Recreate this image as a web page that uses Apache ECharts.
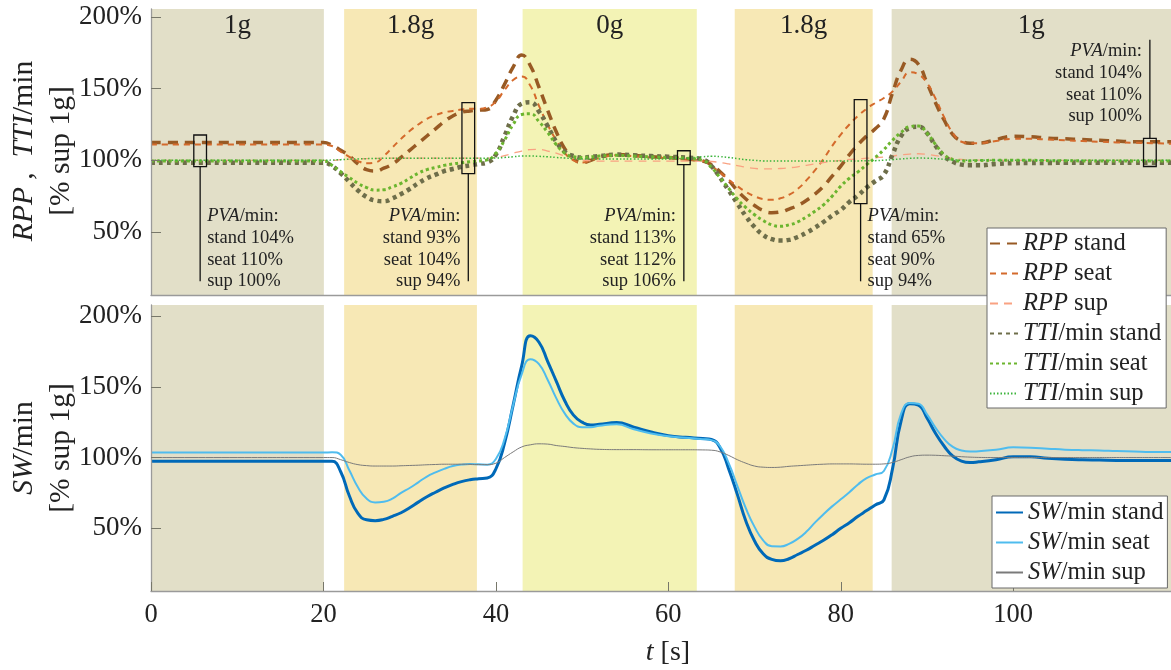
<!DOCTYPE html>
<html><head><meta charset="utf-8">
<script src="https://cdn.jsdelivr.net/npm/echarts@6/dist/echarts.min.js"></script>
<style>html,body{margin:0;padding:0;background:#fff}#c{width:1171px;height:670px}</style>
</head><body><div id="c"></div>
<script>
// ---------- data ----------
const t = [0,10,20, 21,22,23,24,25,26,27,28,29,30, 31,32,33,34,35,36,37,38,39,40, 41,42,43,44,45,46,47,48,49,50, 51,52,54,56,58,60,62,64, 65,66,67,68,69,70,71,72,73,74, 75,76,77,78,79,80,81,82,83,84, 85,86,87,88,89,90,91,92,93,94, 95,96,98,100,102,104,106,108,110,112,114,116,119];

const rppStand = [112.5,112.5,112.5, 110.5,107,103,97.5,93.5,92.5,94.5,97.5,102,107, 112,117,122,127,131,133.5,134.5,135,135.5,142, 153,165,173.5,166,151,135,120,108,101,98.5, 100,102.5,104,103.5,102.5,102,101,99.5, 97,92,86,79,73,68.5,65,63.5,64,66, 68.5,72,76.5,82,89,96,104,111,117,122, 129,147,163,170.5,167,154,140,128,118,113.5, 112,112,114.5,116.8,116.5,115.5,115,114.5,114,113.5,113,113,113];
const rppSeat = [111,111,111, 110,106,102.5,99.5,98,98.5,103,109,115,120.5, 125,129,131.5,133.5,134.5,135.5,136,136,137,141, 149,156,158.5,152,138,125,114,105,100,98.5, 100,101.5,103.5,103,102,101.5,100.5,99.5, 96,91.5,86.5,82,78,75,73,72.5,73.5,76, 80,86,93,101,110,118,125,131,136,140, 143.5,148,155,161.5,160,154,143,130,119,113, 112,112,113.5,115,115,114.5,114,113.5,113,112.5,112.3,112,111.5];
const rppSup = [100,100,100, 100,100.5,100.8,101,101.2,101.4,101.5,101.5,101.5,101.5, 101.5,101.5,101.5,101.5,101.5,101.5,101.5,101.5,101.5,102, 103.3,105,106.5,107.5,107.6,106.5,105,103,101.5,100.3, 99.7,99.5,99.5,99.5,99.5,99.5,99.5,99.5, 99.2,98.5,97.5,96.3,95.2,94.4,94,94,94.3,94.8, 95.5,96.5,97.5,98.5,99.3,100,100.6,101,101.5,101.8, 102.3,103,103.8,104.4,104.6,104.2,103.3,102.3,101.3,100.6, 100.3,100.1,100,100,100,100,100,100,100,100,100,100,100];
const ttiStand = [98.3,98.3,98.3, 96,91,85,79,74.5,72,71.5,73.5,76.5,80, 84,87.5,90,92.5,94,95.5,96.5,97.5,98.5,104, 117,131,139.5,140.5,134,124,113,106,103,102, 102.5,103,104,103.5,103,102.5,102,100.5, 96,88,79,70,61,53.5,48,45,44,44.5, 46.5,49.5,53,57,61.5,65.5,71,75.5,81,85.5, 90,104,117,122.5,123.5,119,110,103,99,97, 96.5,96.5,97.5,98,98.2,98.2,98.3,98.3,98.3,98.3,98.3,98.3,98.3];
const ttiSeat = [99.5,99.5,99.5, 96.5,92,88,84,81,79.2,79.5,81.5,84,87.5, 91,93.5,95,96.5,97.5,98.3,99,99.5,100.3,105, 114,125,132,132.5,127,119.5,111,105,102.5,102, 102.5,103,103.5,103,102.5,102,101.5,100, 95,88,80.5,73,67,62,58,55,54,55, 57,60.5,64.5,69,75,82,87.5,92,97,102, 107.5,114,119.5,123.5,124,119,111,104,100.5,99.5, 99.5,99.8,100,100,100,99.8,99.7,99.6,99.5,99.5,99.5,99.5,99.5];
const ttiSup = [100,100,100, 100.2,100.5,100.8,101,101.2,101.3,101.4,101.5,101.5,101.5, 101.5,101.5,101.5,101.5,101.5,101.5,101.5,101.5,101.5,101.6, 102,102.5,103,103,102.8,102.5,102,101.6,101.2,101, 101,101,101,101,101,101,101.5,102.5, 102.8,102.6,102,101.2,100.5,100,99.6,99.5,99.5,99.5, 99.5,99.5,99.5,99.5,99.5,99.5,99.5,99.6,99.7,99.8, 100.1,100.5,101,101.4,101.6,101.5,101.2,100.7,100.3,100.1, 100,100,100,100,100,100,100,100,100,100,100,100,100];
const swStand = [97.3,97.3,97.3, 97.3,90,73,60.5,56,55.4,56.3,58.5,61,64.5, 68.5,72.3,75.5,78.5,81,83,84.3,85,85.5,92, 110,137,165,186,181.5,168,154,140,130,125, 123,123.5,124.7,121.5,118,115.5,114.3,113.5, 112.8,107,92,74,55,41,32,28,27,28.5, 31.5,34.5,38,41.5,45.5,50,54,58.5,62.5,66.5, 70,92,126,138,137,128,117,108,101,97.5, 96.5,97,98.5,100.5,100.5,99.5,98.8,98.4,98.2,98,98,97.9,97.9];
const swSeat = [103.5,103.5,103.5, 103.8,102,91,79,71,68.3,68.8,71,75,78.5, 82.5,86.6,89.5,92,94,95,95.4,95.2,95,99, 113,137,159,169.5,166,155,142,131,124,121.5, 121.5,122.5,123.5,120,117,115,114,113, 112.3,108,96,80,64,51,41.5,37.3,37.2,39, 42.5,47.5,54,60,65.5,70.5,75.5,81,85.5,88, 90.5,106,131,138.5,138,130.5,121,113,107.5,105, 104.2,104.5,105.5,107.2,107,106.3,105.6,105.2,105,104.6,104.3,104,103.8];
const swSup = [100,100,100, 100,98.5,96.5,95,94.3,94,94,94,94.2,94.4, 94.6,94.9,95.1,95.3,95.3,95.3,95.2,95,95,96, 100,104,107.5,109,109.7,109.5,108.5,107.8,107,106.5, 106.1,105.8,105.6,105.6,105.5,105.5,105.5,105.4, 105.2,104,101.5,98.5,96,94,93.2,93,93.2,93.8, 94.2,94.6,95,95.3,95.5,95.5,95.5,95.4,95.3,95.3, 95.5,96.5,98.5,100.5,101.5,101.7,101.6,101.3,101,100.6, 100.3,100.1,100,100,100,100,100,100,100,100,100,100,100];

const bandStart = [0, 22.4, 43.1, 67.7, 85.9];
const bandEnd = [20.05, 37.8, 63.3, 83.7, 119];
const bandLabel = ['1g', '1.8g', '0g', '1.8g', '1g'];

const yTicks = [50, 100, 150, 200];
const xTicks = [0, 20, 40, 60, 80, 100];

const annotT = [5.7, 36.8, 61.8, 82.3, 115.85];
const annotLow = [95.6, 90.7, 97, 69.8, 95.7];
const annotHigh = [117.7, 140.3, 106.7, 142.4, 115.4];
const pvaStand = [104, 93, 113, 65, 104];
const pvaSeat = [110, 104, 112, 90, 110];
const pvaSup = [100, 94, 106, 94, 100];

// ---------- styles / layout ----------
const SERIF = "'Liberation Serif', 'Times New Roman', serif";
const TXT = '#222';
const bandColor = { '1g': '#e2dfc8', '1.8g': '#f7e8b5', '0g': '#f3f3b5' };
const annotLayout = [
  { side: 'right', lead: 15.6 },
  { side: 'left', lead: 15.6 },
  { side: 'left', lead: 15.6 },
  { side: 'right', lead: 15.6 },
  { side: 'left', lead: 184.2 }
];

function pts(vals) { return t.map((x, i) => [x, vals[i]]); }

function bands(withLabel) {
  return bandStart.map((s, i) => [
    { xAxis: s, itemStyle: { color: bandColor[bandLabel[i]], opacity: 1 },
      label: { show: withLabel, formatter: bandLabel[i] } },
    { xAxis: bandEnd[i] }
  ]);
}

function line(name, vals, color, width, type, gi, extra) {
  return Object.assign({
    name: name, type: 'line', xAxisIndex: gi, yAxisIndex: gi,
    data: pts(vals), symbol: 'none', smooth: 0.5,
    lineStyle: { color: color, width: width, type: type, cap: 'butt', join: 'round' },
    itemStyle: { color: color }, z: 3, silent: true
  }, extra || {});
}

const markAreaOpt = (withLabel) => ({
  silent: true, z: 1,
  label: { show: withLabel, position: 'insideTop', distance: 3, fontFamily: SERIF, fontSize: 27, color: TXT },
  data: bands(withLabel)
});

const fmt = n => n.replace(/^(RPP|TTI|SW)/, '{i|$1}');
const legendText = {
  fontFamily: SERIF, fontSize: 24.5, color: TXT, lineHeight: 24,
  rich: { i: { fontFamily: SERIF, fontSize: 24.5, fontStyle: 'italic', color: TXT, lineHeight: 24 } }
};

const axisLineStyle = { color: '#9a9a9a', width: 1.3 };

const option = {
  animation: false,
  backgroundColor: '#fff',
  grid: [
    { left: 151, top: 9, width: 1020, height: 286, outerBoundsMode: 'none', containLabel: false },
    { left: 151, top: 305, width: 1020, height: 286, outerBoundsMode: 'none', containLabel: false }
  ],
  xAxis: [
    { type: 'value', gridIndex: 0, min: 0, max: 118.3, z: 5,
      axisLine: { show: true, lineStyle: axisLineStyle }, axisTick: { show: false },
      axisLabel: { show: false }, splitLine: { show: false } },
    { type: 'value', gridIndex: 1, min: 0, max: 118.3, z: 5,
      axisLine: { show: true, lineStyle: axisLineStyle },
      axisTick: { show: true, inside: true, length: 9, customValues: xTicks, lineStyle: { color: '#77776a', width: 1 } },
      axisLabel: { show: true, customValues: xTicks, margin: 11, fontFamily: SERIF, fontSize: 26.5, color: TXT },
      splitLine: { show: false },
      name: '{i|t} [s]', nameLocation: 'middle', nameGap: 48,
      nameTextStyle: { fontFamily: SERIF, fontSize: 28, color: TXT, padding: [0, 0, 0, 14],
        rich: { i: { fontFamily: SERIF, fontSize: 28, fontStyle: 'italic', color: TXT } } } }
  ],
  yAxis: [
    { type: 'value', gridIndex: 0, min: 6.05, max: 205.6, z: 5,
      axisLine: { show: true, lineStyle: axisLineStyle },
      axisTick: { show: true, inside: true, length: 10, customValues: yTicks, lineStyle: { color: '#77776a', width: 1 } },
      axisLabel: { show: true, customValues: yTicks, formatter: '{value}%', margin: 9, fontFamily: SERIF, fontSize: 27, color: TXT },
      splitLine: { show: false } },
    { type: 'value', gridIndex: 1, min: 5.7, max: 207.8, z: 5,
      axisLine: { show: true, lineStyle: axisLineStyle },
      axisTick: { show: true, inside: true, length: 10, customValues: yTicks, lineStyle: { color: '#77776a', width: 1 } },
      axisLabel: { show: true, customValues: yTicks, formatter: '{value}%', margin: 9, fontFamily: SERIF, fontSize: 27, color: TXT },
      splitLine: { show: false } }
  ],
  legend: [
    { data: ['RPP stand', 'RPP seat', 'RPP sup', 'TTI/min stand', 'TTI/min seat', 'TTI/min sup'],
      orient: 'vertical', left: 987, top: 228, itemWidth: 28, itemHeight: 14, itemGap: 5,
      padding: [3, 5, 2, 2], backgroundColor: '#fff', borderColor: '#6a6a6a', borderWidth: 1,
      itemStyle: { opacity: 0 },
      selectedMode: false, formatter: fmt, textStyle: legendText, z: 10 },
    { data: ['SW/min stand', 'SW/min seat', 'SW/min sup'],
      orient: 'vertical', left: 992, top: 496, itemWidth: 27, itemHeight: 14, itemGap: 5,
      padding: [4, 4, 3, 3], backgroundColor: '#fff', borderColor: '#6a6a6a', borderWidth: 1,
      itemStyle: { opacity: 0 },
      selectedMode: false, formatter: fmt, textStyle: legendText, z: 10 }
  ],
  graphic: [
    { type: 'text', x: 43, y: 151, rotation: Math.PI / 2, z: 10,
      style: { text: '{i|RPP} ,  {i|TTI}/min\n[% sup 1g]', align: 'center', verticalAlign: 'middle',
        fontFamily: SERIF, fontSize: 29.5, fill: TXT, lineHeight: 37,
        rich: { i: { fontFamily: SERIF, fontSize: 29.5, fontStyle: 'italic', fill: TXT, lineHeight: 37 } } } },
    { type: 'text', x: 43, y: 448, rotation: Math.PI / 2, z: 10,
      style: { text: '{i|SW}/min\n[% sup 1g]', align: 'center', verticalAlign: 'middle',
        fontFamily: SERIF, fontSize: 29.5, fill: TXT, lineHeight: 37,
        rich: { i: { fontFamily: SERIF, fontSize: 29.5, fontStyle: 'italic', fill: TXT, lineHeight: 37 } } } }
  ],
  series: [
    line('RPP stand', rppStand, '#985a24', 3.5, [10, 7], 0, { markArea: markAreaOpt(true) }),
    line('RPP seat', rppSeat, '#d46a2c', 2, [6, 5], 0),
    line('RPP sup', rppSup, '#f9a282', 1.3, [8, 6], 0),
    line('TTI/min stand', ttiStand, '#6e6e4a', 4.5, [4, 4], 0),
    line('TTI/min seat', ttiSeat, '#6cb52f', 3, [3, 3], 0),
    line('TTI/min sup', ttiSup, '#3cb43c', 1.5, [1.5, 2], 0),
    line('SW/min stand', swStand, '#0069b8', 3, 'solid', 1, { markArea: markAreaOpt(false) }),
    line('SW/min seat', swSeat, '#4fbcee', 2, 'solid', 1),
    line('SW/min sup', swSup, '#7a7a7a', 1, 'solid', 1),
    {
      type: 'custom', xAxisIndex: 0, yAxisIndex: 0, z: 6, silent: true,
      data: annotT.map((v, i) => [v, annotLow[i], annotHigh[i]]),
      encode: { x: 0, y: [1, 2] },
      renderItem: function (params, api) {
        const i = params.dataIndex;
        const L = annotLayout[i];
        const tt = api.value(0);
        const pLo = api.coord([tt, api.value(1)]);
        const pHi = api.coord([tt, api.value(2)]);
        const pEnd = api.coord([tt, L.lead]);
        const x = pLo[0];
        const w = 12.7;
        const up = L.lead > api.value(2);
        const txt = '{i|PVA}/min:\nstand ' + pvaStand[i] + '%\nseat ' + pvaSeat[i] + '%\nsup ' + pvaSup[i] + '%';
        return {
          type: 'group',
          children: [
            { type: 'rect', shape: { x: x - w / 2, y: pHi[1], width: w, height: pLo[1] - pHi[1] },
              style: { fill: 'none', stroke: '#111', lineWidth: 1.3 } },
            { type: 'line', shape: { x1: x, y1: up ? pHi[1] : pLo[1], x2: x, y2: pEnd[1] },
              style: { stroke: '#111', lineWidth: 1.3 } },
            { type: 'text', x: L.side === 'right' ? x + 7 : x - 8, y: up ? pEnd[1] + 1 : pEnd[1] + 11,
              style: { text: txt, align: L.side === 'right' ? 'left' : 'right', verticalAlign: up ? 'top' : 'bottom',
                fontFamily: SERIF, fontSize: 18.5, fill: TXT, lineHeight: 21.7,
                rich: { i: { fontFamily: SERIF, fontSize: 18.5, fontStyle: 'italic', fill: TXT, lineHeight: 21.7 } } } }
          ]
        };
      }
    }
  ]
};

const chart = echarts.init(document.getElementById('c'), null, { renderer: 'canvas' });
chart.setOption(option);
</script>
</body></html>
